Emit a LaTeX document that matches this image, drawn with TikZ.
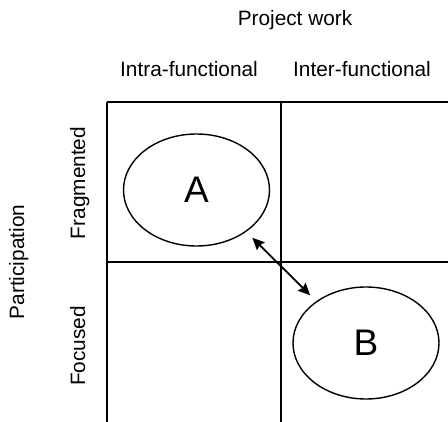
\documentclass[tikz,border=0pt]{standalone}
\usepackage{fontspec}
\setmainfont{Liberation Sans}
\usetikzlibrary{shapes.geometric,arrows.meta}
\begin{document}
\begin{tikzpicture}[x=1pt,y=-1pt,
  label text/.style={font=\fontsize{20.8}{25}\selectfont, inner sep=0pt, anchor=base},
  side text/.style={label text, rotate=90},
  grid line/.style={line width=1.2pt},
  cluster/.style={ellipse, draw, line width=1.4pt, inner sep=0pt,
    minimum width=146pt, minimum height=112pt,
    font=\fontsize{37}{40}\selectfont},
  head/.tip={Stealth[length=12pt,width=11pt,inset=1.5pt]},
  link/.style={head-head, line width=1.8pt, shorten <=8.5pt, shorten >=8.5pt}]
  \useasboundingbox (0,0) rectangle (448,422);

  % headings
  \node[label text] (proj)  at (295,25.5) {Project work};
  \node[label text] (intra) at (189,77)   {Intra-functional};
  \node[label text] (inter) at (362,77)   {Inter-functional};
  \node[side text]  (part)  at (24,262)   {Participation};
  \node[side text]  (frag)  at (85,183)   {Fragmented};
  \node[side text]  (foc)   at (85,346)   {Focused};

  % matrix grid
  \coordinate (tl) at (107,102);
  \coordinate (tm) at (281,102);
  \coordinate (tr) at (448,102);
  \coordinate (ml) at (107,262);
  \coordinate (mr) at (448,262);
  \coordinate (bl) at (107,422);
  \coordinate (bm) at (281,422);
  \draw[grid line] (tl) -- (tr);
  \draw[grid line] (ml) -- (mr);
  \draw[grid line] (tl) -- (bl);
  \draw[grid line] (tm) -- (bm);

  % the two positions
  \node[cluster] (A) at (196.5,190) {A};
  \node[cluster] (B) at (366,343)   {B};
  \draw[link] (A.-40) -- (B.140);
\end{tikzpicture}
\end{document}
